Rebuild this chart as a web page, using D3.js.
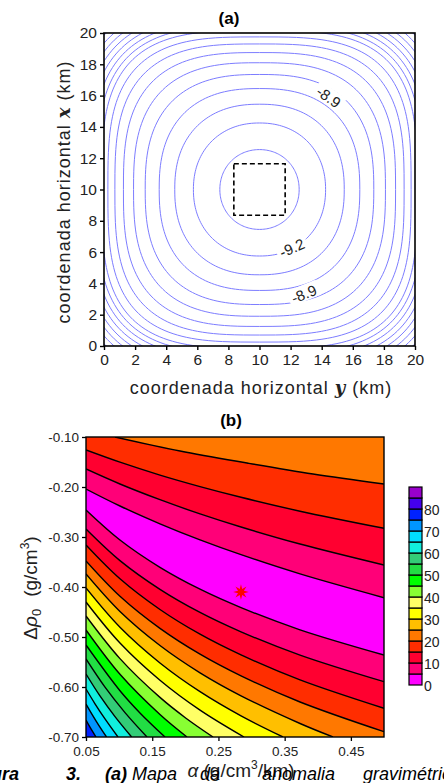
<!DOCTYPE html>
<html><head><meta charset="utf-8">
<script src="https://cdnjs.cloudflare.com/ajax/libs/d3/7.8.5/d3.min.js"></script>
<style>
body{margin:0;background:#fff;}
svg{display:block;font-family:"Liberation Sans",Arial,sans-serif;}
</style></head><body>
<svg id="fig" width="444" height="783"></svg>
<script>
// ---------- panel (a): anomaly map ----------
var ringAxis  = [2.55, 4.25, 5.45, 6.45, 7.35, 8.1, 8.75, 9.3, 9.75, 10.15, 10.45, 10.75, 11.05, 11.35, 11.65, 11.95, 12.25];
var ringPower = [2.05, 2.15, 2.3, 2.45, 2.6, 2.75, 2.9, 3.05, 3.2, 3.3, 3.3, 3.3, 3.3, 3.3, 3.3, 3.3, 3.3];
var ringLabels = [
  {text:"-8.9", h:14.44, v:15.91, rot:35},
  {text:"-9.2", h:12.09, v:6.26, rot:-24},
  {text:"-8.9", h:12.86, v:3.32, rot:-22}
];
var prismBox = [8.35, 11.65];
var kmTicks = [0,2,4,6,8,10,12,14,16,18,20];

// ---------- panel (b): misfit map ----------
var alphaTicks = [0.05, 0.15, 0.25, 0.35, 0.45];
var rhoTicks = [-0.10, -0.20, -0.30, -0.40, -0.50, -0.60, -0.70];
var levels = [0,5,10,15,20,25,30,35,40,45,50,55,60,65,70,75,80,85];
var levelColors = ["#ff00ff","#ff0078","#ff0030","#ff2d00","#ff7800","#ffbf00","#ffff00","#ffff66",
                   "#88ff33","#00ff00","#22dd44","#33cc77","#11eedd","#00ddff","#0095ff","#0022ff","#4400ee","#9900cc"];
var cbLabels = [0,10,20,30,40,50,60,70,80];
var aCols = [0.05, 0.1013, 0.1617, 0.2222, 0.2841, 0.3732, 0.5];
// contour lines above the valley, [alpha, drho0]
var upperLines = [
  {level:5,  a:aCols, r:[-0.204,-0.238,-0.2736,-0.3058,-0.3354,-0.3738,-0.4214]},
  {level:10, a:aCols, r:[-0.164,-0.194,-0.2254,-0.2538,-0.28,-0.314,-0.356]},
  {level:15, a:aCols, r:[-0.126,-0.1504,-0.1762,-0.1992,-0.2206,-0.2484,-0.2826]},
  {level:20, a:[0.0938,0.192,0.2931,0.3928,0.5], r:[-0.10,-0.128,-0.152,-0.174,-0.194]}
];
// contour lines below the valley
var lowerLines = [
  {level:5,  a:aCols, r:[-0.246,-0.306,-0.3606,-0.4044,-0.4412,-0.4856,-0.536]},
  {level:10, a:aCols, r:[-0.284,-0.3472,-0.4046,-0.4508,-0.4896,-0.5362,-0.5894]},
  {level:15, a:aCols, r:[-0.316,-0.3836,-0.445,-0.4944,-0.5358,-0.5858,-0.6426]},
  {level:20, a:aCols, r:[-0.348,-0.4186,-0.4828,-0.5344,-0.5778,-0.63,-0.6894]},
  {level:25, a:[0.05,0.1013,0.1617,0.2222,0.2841,0.3732,0.423], r:[-0.374,-0.449,-0.517,-0.5716,-0.6176,-0.673,-0.70]},
  {level:30, a:[0.05,0.1013,0.1617,0.2222,0.2841,0.3475], r:[-0.402,-0.4806,-0.552,-0.6094,-0.6578,-0.70]},
  {level:35, a:[0.05,0.1013,0.1617,0.2222,0.2886], r:[-0.43,-0.512,-0.5864,-0.6462,-0.70]},
  {level:40, a:[0.05,0.1013,0.1617,0.201,0.2418], r:[-0.458,-0.5432,-0.6208,-0.6624,-0.70]},
  {level:45, a:[0.05,0.1013,0.1617,0.2025], r:[-0.486,-0.5746,-0.655,-0.70]},
  {level:50, a:[0.05,0.1013,0.1315,0.1693], r:[-0.516,-0.6074,-0.6518,-0.70]},
  {level:55, a:[0.05,0.0787,0.1089,0.1421], r:[-0.544,-0.6004,-0.6512,-0.70]},
  {level:60, a:[0.05,0.0711,0.0938,0.1189], r:[-0.574,-0.6178,-0.6592,-0.70]},
  {level:65, a:[0.05,0.0636,0.0787,0.0983], r:[-0.604,-0.6336,-0.6638,-0.70]},
  {level:70, a:[0.05,0.0591,0.0696,0.081], r:[-0.634,-0.6546,-0.6772,-0.70]},
  {level:75, a:[0.05,0.056,0.0651], r:[-0.666,-0.6802,-0.70]}
];
var best = [0.284, -0.41];

var svg = d3.select("#fig");
var txt = "#222";

// ================= panel (a) =================
var xA = d3.scaleLinear().domain([0,20]).range([104,415]);
var yA = d3.scaleLinear().domain([0,20]).range([346,33]);

svg.append("clipPath").attr("id","clipA").append("rect")
  .attr("x",104).attr("y",33).attr("width",311).attr("height",313);

var gA = svg.append("g");
var rings = gA.append("g").attr("clip-path","url(#clipA)");
var ringLine = d3.line().curve(d3.curveLinearClosed);
ringAxis.forEach(function(a,i){
  var n = ringPower[i], pts = [];
  for (var k=0;k<180;k++){
    var t = k/180*2*Math.PI, c = Math.cos(t), s = Math.sin(t);
    var u = a*Math.sign(c)*Math.pow(Math.abs(c),2/n);
    var v = a*Math.sign(s)*Math.pow(Math.abs(s),2/n);
    pts.push([xA(10+u), yA(10+v)]);
  }
  rings.append("path").attr("d",ringLine(pts))
    .attr("fill","none").attr("stroke","#7d7dff").attr("stroke-width",1);
});

// contour labels
ringLabels.forEach(function(d){
  var g = gA.append("g").attr("transform","translate("+xA(d.h)+","+yA(d.v)+") rotate("+d.rot+")");
  g.append("rect").attr("x",-16).attr("y",-9).attr("width",32).attr("height",16).attr("fill","#fff");
  g.append("text").attr("text-anchor","middle").attr("dy","0.35em")
    .attr("font-size",15).attr("fill",txt).text(d.text);
});

// dashed prism outline
gA.append("rect")
  .attr("x",xA(prismBox[0])).attr("y",yA(prismBox[1]))
  .attr("width",xA(prismBox[1])-xA(prismBox[0])).attr("height",yA(prismBox[0])-yA(prismBox[1]))
  .attr("fill","none").attr("stroke","#000").attr("stroke-width",1.6).attr("stroke-dasharray","5,3");

gA.append("rect").attr("x",104).attr("y",33).attr("width",311).attr("height",313)
  .attr("fill","none").attr("stroke","#000").attr("stroke-width",1.6);

var axA = gA.append("g").attr("transform","translate(0,346)")
  .call(d3.axisBottom(xA).tickValues(kmTicks).tickSize(4).tickPadding(4));
var ayA = gA.append("g").attr("transform","translate(104,0)")
  .call(d3.axisLeft(yA).tickValues(kmTicks).tickSize(4).tickPadding(3));
[axA, ayA].forEach(function(ax){
  ax.select(".domain").remove();
  ax.selectAll("line").attr("stroke","#000").attr("stroke-width",1.4);
  ax.selectAll("text").attr("font-size",15.5).attr("fill",txt).attr("font-family","Liberation Sans, Arial, sans-serif");
});

svg.append("text").attr("x",229).attr("y",24).attr("text-anchor","middle")
  .attr("font-size",17).attr("font-weight","bold").attr("fill","#000").text("(a)");

var xt = svg.append("text").attr("x",261).attr("y",394).attr("text-anchor","middle")
  .attr("font-size",18).attr("fill",txt).attr("letter-spacing",1.0);
xt.append("tspan").text("coordenada horizontal ");
xt.append("tspan").attr("font-family","DejaVu Serif, serif").attr("font-style","italic").attr("font-weight","bold").text("y");
xt.append("tspan").text(" (km)");

var yt = svg.append("text").attr("transform","translate(70,192) rotate(-90)").attr("text-anchor","middle")
  .attr("font-size",18).attr("fill",txt).attr("letter-spacing",1.0);
yt.append("tspan").text("coordenada horizontal ");
yt.append("tspan").attr("font-family","DejaVu Serif, serif").attr("font-style","italic").attr("font-weight","bold").text("x");
yt.append("tspan").text(" (km)");

// ================= panel (b) =================
var xB = d3.scaleLinear().domain([0.05,0.5]).range([86,384]);
var yB = d3.scaleLinear().domain([-0.7,-0.1]).range([737,437]);
var colorOf = d3.scaleOrdinal().domain(levels).range(levelColors);

svg.append("clipPath").attr("id","clipB").append("rect")
  .attr("x",86).attr("y",437).attr("width",298).attr("height",300);

var gB = svg.append("g");
var field = gB.append("g").attr("clip-path","url(#clipB)");
field.append("rect").attr("x",86).attr("y",437).attr("width",298).attr("height",300)
  .attr("fill",colorOf(0));

var cLine = d3.line().curve(d3.curveCatmullRom.alpha(0.5));
function linePts(d){ return d.a.map(function(a,i){ return [xB(a), yB(d.r[i])]; }); }

// bands above the valley: fill from each line up to the top edge
upperLines.forEach(function(d){
  var p = cLine(linePts(d)) + "L" + xB(0.5) + "," + yB(-0.1) + "L" + xB(0.05) + "," + yB(-0.1) + "Z";
  field.append("path").attr("d",p).attr("fill",colorOf(d.level));
});
// bands below the valley: fill from each line down to the bottom-left
lowerLines.forEach(function(d){
  var p = cLine(linePts(d));
  if (d.a[d.a.length-1] >= 0.5) p += "L" + xB(0.5) + "," + yB(-0.7);
  p += "L" + xB(0.05) + "," + yB(-0.7) + "Z";
  field.append("path").attr("d",p).attr("fill",colorOf(d.level));
});
upperLines.concat(lowerLines).forEach(function(d){
  field.append("path").attr("d",cLine(linePts(d))).attr("fill","none")
    .attr("stroke","#000").attr("stroke-width",1.4);
});

// best-fit star
var star = [];
for (var k=0;k<16;k++){ star.push([k*Math.PI/8, k%2 ? 3.2 : 7.8]); }
gB.append("path").attr("d",d3.lineRadial().curve(d3.curveLinearClosed)(star))
  .attr("transform","translate("+xB(best[0])+","+yB(best[1])+")")
  .attr("fill","#ff0000");

gB.append("rect").attr("x",86).attr("y",437).attr("width",298).attr("height",300)
  .attr("fill","none").attr("stroke","#000").attr("stroke-width",1.4);

var axB = gB.append("g").attr("transform","translate(0,737)")
  .call(d3.axisBottom(xB).tickValues(alphaTicks).tickFormat(d3.format(".2f")).tickSize(4).tickPadding(5));
var ayB = gB.append("g").attr("transform","translate(86,0)")
  .call(d3.axisLeft(yB).tickValues(rhoTicks).tickSize(4).tickPadding(3));
[axB, ayB].forEach(function(ax){
  ax.select(".domain").remove();
  ax.selectAll("line").attr("stroke","#000").attr("stroke-width",1.3);
  ax.selectAll("text").attr("font-size",13.5).attr("fill",txt).attr("font-family","Liberation Sans, Arial, sans-serif");
});
ayB.selectAll("text").text(function(d){ return d3.format(".2f")(d).replace("\u2212","-"); });

svg.append("text").attr("x",231).attr("y",426).attr("text-anchor","middle")
  .attr("font-size",17).attr("font-weight","bold").attr("fill","#000").text("(b)");

// colour bar
var cbY = d3.scaleLinear().domain([0,90]).range([685,487]);
var cb = svg.append("g");
levels.forEach(function(l,i){
  cb.append("rect").attr("x",409).attr("y",cbY(l+5)).attr("width",13).attr("height",cbY(l)-cbY(l+5))
    .attr("fill",levelColors[i]).attr("stroke","#000").attr("stroke-width",1.2);
});
cbLabels.forEach(function(v){
  cb.append("text").attr("x",424).attr("y",cbY(v)+1).attr("dy","0.35em")
    .attr("font-size",14).attr("fill",txt).text(v);
});

// axis titles
var ybt = svg.append("text").attr("transform","translate(37,588) rotate(-90)").attr("text-anchor","middle")
  .attr("font-size",19).attr("fill",txt);
ybt.append("tspan").text("\u0394");
ybt.append("tspan").attr("font-style","italic").text("\u03c1");
ybt.append("tspan").attr("font-size",13).attr("dy",4).text("0");
ybt.append("tspan").attr("dy",-4).attr("dx",12).text("(g/cm");
ybt.append("tspan").attr("font-size",12).attr("dy",-8).text("3");
ybt.append("tspan").attr("dy",8).text(")");

var xbt = svg.append("text").attr("x",241).attr("y",777).attr("text-anchor","middle")
  .attr("font-size",19).attr("fill",txt);
xbt.append("tspan").attr("font-style","italic").text("\u03b1");
xbt.append("tspan").text(" (g/cm");
xbt.append("tspan").attr("font-size",12).attr("dy",-8).text("3");
xbt.append("tspan").attr("dy",8).text("/km)");

// caption running under the figure
var caption = [
  {t:"Figura", x:19, a:"end", b:true},
  {t:"3.", x:66, a:"start", b:true},
  {t:"(a)", x:105, a:"start", b:true},
  {t:"Mapa", x:132, a:"start", b:false},
  {t:"da", x:200, a:"start", b:false},
  {t:"anomalia", x:262, a:"start", b:false},
  {t:"gravim\u00e9trica", x:363, a:"start", b:false}
];
caption.forEach(function(c){
  svg.append("text").attr("x",c.x).attr("y",780).attr("text-anchor",c.a)
    .attr("font-size",18).attr("font-style","italic").attr("font-weight",c.b?"bold":"normal")
    .attr("fill","#000").text(c.t);
});
</script>
</body></html>
